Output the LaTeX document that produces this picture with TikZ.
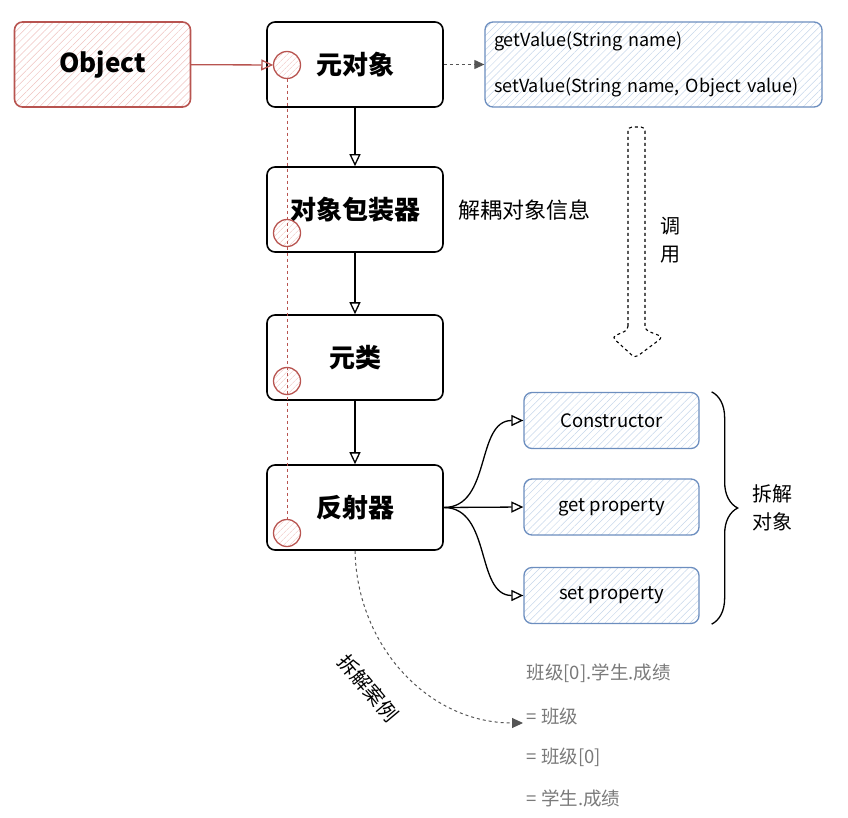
\documentclass[tikz,border=0pt]{standalone}
\usepackage{fontspec}
\setmainfont{Noto Sans CJK SC}
\usetikzlibrary{arrows.meta,patterns.meta,decorations.pathreplacing}
\definecolor{objred}{HTML}{B85450}
\definecolor{hatchred}{HTML}{EFC3C0}
\definecolor{apiblue}{HTML}{6C8EBF}
\definecolor{hatchblue}{HTML}{C6D6EA}
\definecolor{notegray}{HTML}{7A7A7A}
\definecolor{linkgray}{HTML}{555555}
\newcommand{\fsz}[1]{\fontsize{#1}{1.2\dimexpr#1pt\relax}\selectfont}

\begin{document}
\begin{tikzpicture}[x=1pt,y=-1pt,>={Triangle[open,length=12pt,width=11pt]},line width=1.3pt]
  \tikzstyle{stage}=[draw, rounded corners=8pt, minimum width=176pt, minimum height=85pt,
    line width=1.6pt, font=\fsz{26}\bfseries]
  \tikzstyle{objbox}=[stage, draw=objred, pattern={Lines[angle=45,distance=5pt,line width=0.5pt]},
    pattern color=hatchred]
  \tikzstyle{apibox}=[draw=apiblue, rounded corners=8pt, line width=1.3pt,
    pattern={Lines[angle=45,distance=5pt,line width=0.5pt]}, pattern color=hatchblue]
  \tikzstyle{partbox}=[apibox, minimum width=175pt, minimum height=56pt, font=\fsz{18.5}]
  \tikzstyle{pin}=[circle, draw=objred, minimum size=27pt, inner sep=0pt, line width=1.3pt,
    pattern={Lines[angle=45,distance=4pt,line width=0.5pt]}, pattern color=hatchred]
  \tikzstyle{note}=[font=\fsz{20}, align=center, inner sep=0pt]
  \tikzstyle{case}=[anchor=west, font=\fsz{18.5}, text=notegray, inner sep=0pt]

  \useasboundingbox (0,0) rectangle (848,818);

  % main column
  \node[objbox] (object) at (102.5,64.5) {Object};
  \node[stage] (meta) at (355,64.5) {元对象};
  \node[stage] (wrapper) at (355,209.5) {对象包装器};
  \node[stage] (metaclass) at (355,357.5) {元类};
  \node[stage] (reflector) at (355,507.5) {反射器};

  \node[pin] (pin1) at (287,65) {};
  \node[pin] (pin2) at (287,233) {};
  \node[pin] (pin3) at (287,381) {};
  \node[pin] (pin4) at (287,533) {};

  % right side
  \node[apibox, minimum width=337pt, minimum height=85pt, text width=319pt, align=left,
    font=\fsz{18}, inner xsep=9pt] (api) at (653.5,64.5)
    {getValue(String name)\\[24pt]setValue(String name, Object value)};
  \node[partbox] (ctor) at (611.5,420.5) {Constructor};
  \node[partbox] (getprop) at (611.5,507) {get property};
  \node[partbox] (setprop) at (611.5,595.5) {set property};

  \node[note, anchor=west, font=\fsz{22}] (decouple) at (458,210) {解耦对象信息};
  \node[note] (invoke) at (670,240) {调\\[4pt]用};
  \node[note] (split) at (772,508) {拆解\\[4pt]对象};
  \node[note, rotate=-50] (example) at (368,688) {拆解案例};

  \node[case] (case0) at (526,673) {班级[0].学生.成绩};
  \node[case] (case1) at (526,716) {= 班级};
  \node[case] (case2) at (526,757) {= 班级[0]};
  \node[case] (case3) at (526,798) {= 学生.成绩};
  \coordinate (casetip) at (523,723);

  % connectors
  \draw[->, objred] (object) -- (pin1);
  \draw[objred, dashed, line width=1pt] (pin1) -- (pin4);
  \draw[->] (meta) -- (wrapper);
  \draw[->] (wrapper) -- (metaclass);
  \draw[->] (metaclass) -- (reflector);
  \draw[-{Triangle[length=10pt,width=9pt]}, linkgray, dashed, line width=1pt] (meta) -- (api);

  \draw[->] (reflector.east) .. controls +(48,0) and +(-48,0) .. (ctor.west);
  \draw[->] (reflector.east) -- (getprop.west);
  \draw[->] (reflector.east) .. controls +(48,0) and +(-48,0) .. (setprop.west);

  \draw[decorate, decoration={brace, amplitude=26pt}]
    ([xshift=12pt]ctor.north east) -- ([xshift=12pt]setprop.south east);

  % hollow call arrow
  \draw[dashed, line width=1.1pt, rounded corners=4pt]
    (628,330) -- (628,127) -- (645,127) -- (645,330) -- (663,337) -- (635,358) -- (612,337) -- cycle;

  \draw[-{Triangle[length=11pt,width=10pt]}, linkgray, dashed, line width=1pt]
    (reflector.south) .. controls +(2,95) and +(-95,0) .. (casetip);
\end{tikzpicture}
\end{document}
